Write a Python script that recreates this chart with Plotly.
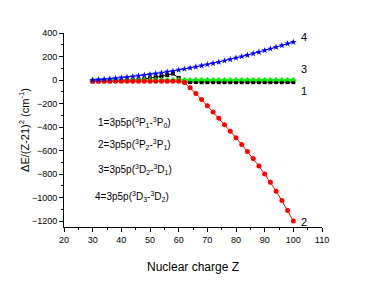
import plotly.graph_objects as go

Z = list(range(30, 101, 2))

# Series 1: 3p5p(3P1-3P0)  (black squares)
s1 = [-12, -11, -10, -10, -9, -8, -6, -3, 2, 8, 15, 23, 32, 42, 55, 18,
      -16, -17, -17, -18, -18, -18, -18, -18, -18, -18, -18, -18, -18, -18,
      -18, -18, -18, -18, -18, -18]
# Series 2: 3p5p(3P2-3P1)  (red circles)
s2 = [-10, -10, -10, -10, -10, -10, -10, -10, -10, -10, -10, -10, -10, -10, -10, -10,
      -20, -65, -115, -165, -218, -272, -325, -380, -435, -490, -548, -607, -668,
      -732, -800, -870, -945, -1025, -1110, -1200]
# Series 3: 3p5p(3D2-3D1)  (green triangles)
s3 = [3, 3, 3, 3, 3, 3, 3, 3, 3, 3, 3, 3, 3, 3, 3, 3, 3, 3, 3, 3, 3, 3, 3, 3,
      3, 3, 3, 3, 3, 3, 3, 3, 3, 3, 3, 3]
# Series 4: 3p5p(3D3-3D2)  (blue stars)
s4 = [0, 3, 7, 11, 15, 20, 25, 30, 36, 42, 48, 55, 62, 69, 77, 86, 94, 103,
      112, 122, 132, 142, 153, 164, 176, 188, 200, 212, 225, 238, 252, 266,
      280, 295, 310, 322]

legend_lines = [
    "1=3p5p(<sup>3</sup>P<sub>1</sub>-<sup>3</sup>P<sub>0</sub>)",
    "2=3p5p(<sup>3</sup>P<sub>2</sub>-<sup>3</sup>P<sub>1</sub>)",
    "3=3p5p(<sup>3</sup>D<sub>2</sub>-<sup>3</sup>D<sub>1</sub>)",
    "4=3p5p(<sup>3</sup>D<sub>3</sub>-<sup>3</sup>D<sub>2</sub>)",
]
legend_y = [-360, -550, -760, -990]
legend_x = [31, 31, 31, 30]

end_labels = ["1", "2", "3", "4"]
end_label_y = [-95, -1210, 90, 362]

font = "Liberation Sans, Arial, sans-serif"

fig = go.Figure()
fig.add_trace(go.Scatter(x=Z, y=s1, mode="lines+markers",
                         line=dict(color="black", width=1),
                         marker=dict(symbol="square", size=4, color="black")))
fig.add_trace(go.Scatter(x=Z, y=s3, mode="lines+markers",
                         line=dict(color="#00ee00", width=1),
                         marker=dict(symbol="triangle-up", size=6, color="#00ee00")))
fig.add_trace(go.Scatter(x=Z, y=s2, mode="lines+markers",
                         line=dict(color="red", width=1),
                         marker=dict(symbol="circle", size=5, color="red")))
fig.add_trace(go.Scatter(x=Z, y=s4, mode="lines+markers",
                         line=dict(color="blue", width=1),
                         marker=dict(symbol="star", size=5, color="blue")))

for t, xx, yy in zip(legend_lines, legend_x, legend_y):
    fig.add_annotation(x=xx, y=yy, text=t, showarrow=False, xanchor="left",
                       yanchor="middle", font=dict(size=10, color="black", family=font))

for t, yy in zip(end_labels, end_label_y):
    fig.add_annotation(x=102, y=yy, text=t, showarrow=False, xanchor="left",
                       yanchor="middle", font=dict(size=11, color="black", family=font))

fig.update_layout(
    width=366, height=278,
    margin=dict(l=56, r=52, t=25, b=59, autoexpand=False),
    paper_bgcolor="white", plot_bgcolor="white",
    showlegend=False,
    font=dict(family=font, size=9, color="black"),
    xaxis=dict(range=[20, 110], tickmode="linear", tick0=20, dtick=10,
               automargin=False,
               showline=True, linecolor="black", linewidth=1,
               ticks="outside", ticklen=4, tickcolor="black", showgrid=False,
               zeroline=False,
               minor=dict(ticks="outside", ticklen=2, dtick=5, tickcolor="black"),
               title=dict(text="Nuclear charge Z", font=dict(size=12), standoff=18),
               tickfont=dict(size=9)),
    yaxis=dict(range=[-1250, 400], tickmode="linear", tick0=-1200, dtick=200,
               automargin=False,
               showline=True, linecolor="black", linewidth=1,
               ticks="outside", ticklen=4, tickcolor="black", showgrid=False,
               zeroline=False,
               minor=dict(ticks="outside", ticklen=2, dtick=100, tickcolor="black"),
               title=dict(text="ΔE/(Z-21)<sup>2</sup> (cm<sup>-1</sup>)", font=dict(size=11), standoff=0),
               tickfont=dict(size=9)),
)

fig.write_html("out.html")
